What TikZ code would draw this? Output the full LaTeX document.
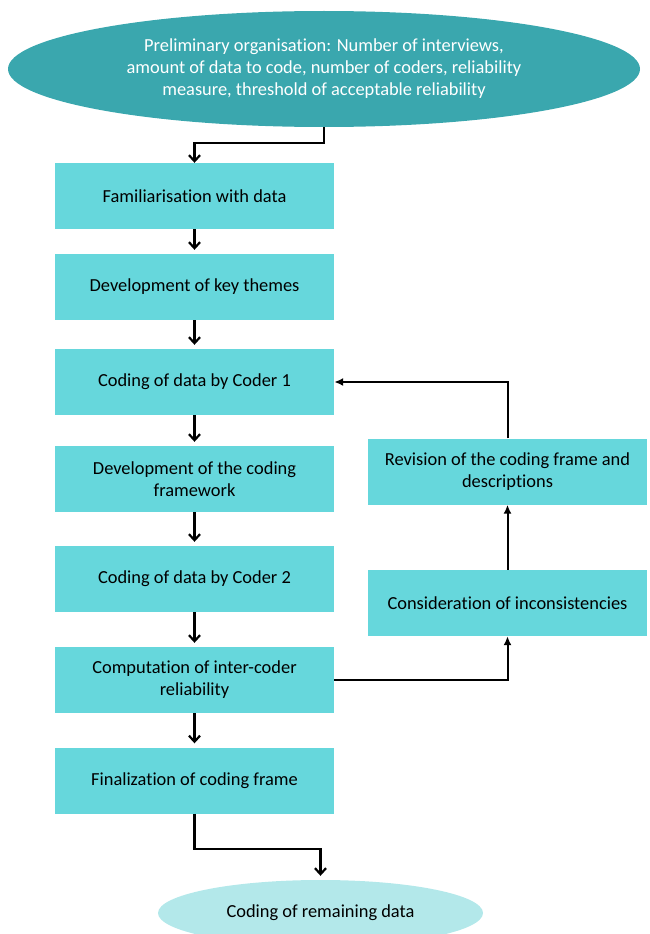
\documentclass[tikz,border=0pt]{standalone}
\usepackage{fontspec}
\setmainfont{Carlito}[Ligatures=NoCommon]
\usetikzlibrary{shapes.geometric,arrows.meta}
\definecolor{tealdark}{HTML}{3AA7AE}
\definecolor{boxcyan}{HTML}{66D7DC}
\definecolor{palecyan}{HTML}{B3E8EA}

\begin{document}
\begin{tikzpicture}[x=1pt,y=-1pt,
        stepbox/.style={fill=boxcyan,minimum width=279pt,minimum height=66pt,inner sep=0pt,align=center,font=\fontsize{18.4}{22}\selectfont},
        flow/.style={line width=2.2pt,-{Straight Barb[length=6pt,width=11pt]},shorten >=4pt},
        elbow/.style={line width=2.2pt,-{Straight Barb[length=6pt,width=11pt]}},
        back/.style={line width=2pt,-{Latex[length=9pt,width=8pt]}}]
    \useasboundingbox (0,0) rectangle (649,934);
    \node[ellipse,fill=tealdark,minimum width=632pt,minimum height=116pt,inner sep=0pt,text=white,align=center,font=\fontsize{18.4}{22}\selectfont] (prelim) at (324,69) {Preliminary organisation: Number of interviews,\\ amount of data to code, number of coders, reliability\\ measure, threshold of acceptable reliability};
    \node[stepbox] (famil) at (194.5,196) {Familiarisation with data};
    \node[stepbox] (themes) at (194.5,287) {Development of key themes};
    \node[stepbox] (coderone) at (194.5,382) {Coding of data by Coder 1};
    \node[stepbox] (frame) at (194.5,479) {Development of the coding\\ framework};
    \node[stepbox] (codertwo) at (194.5,579) {Coding of data by Coder 2};
    \node[stepbox] (compute) at (194.5,680) {Computation of inter-coder\\ reliability};
    \node[stepbox] (final) at (194.5,780.5) {Finalization of coding frame};
    \node[stepbox] (revise) at (507.5,471.5) {Revision of the coding frame and\\ descriptions};
    \node[stepbox] (consider) at (507.5,603) {Consideration of inconsistencies};
    \node[ellipse,fill=palecyan,minimum width=325pt,minimum height=66pt,inner sep=0pt,font=\fontsize{18.4}{22}\selectfont] (remain) at (320.5,913) {Coding of remaining data};
    % main chain
    \draw[elbow] (prelim.south) -- ++(0,16) -| (famil.north);
    \draw[flow] (famil) -- (themes);
    \draw[flow] (themes) -- (coderone);
    \draw[flow] (coderone) -- (frame);
    \draw[flow] (frame) -- (codertwo);
    \draw[flow] (codertwo) -- (compute);
    \draw[flow] (compute) -- (final);
    \draw[elbow,shorten >=4pt] (final.south) -- ++(0,35) -| (remain.north);
    % revision loop
    \draw[back] (compute.east) -| (consider.south);
    \draw[back] (consider) -- (revise);
    \draw[back] (revise.north) |- (coderone.east);
\end{tikzpicture}
\end{document}
